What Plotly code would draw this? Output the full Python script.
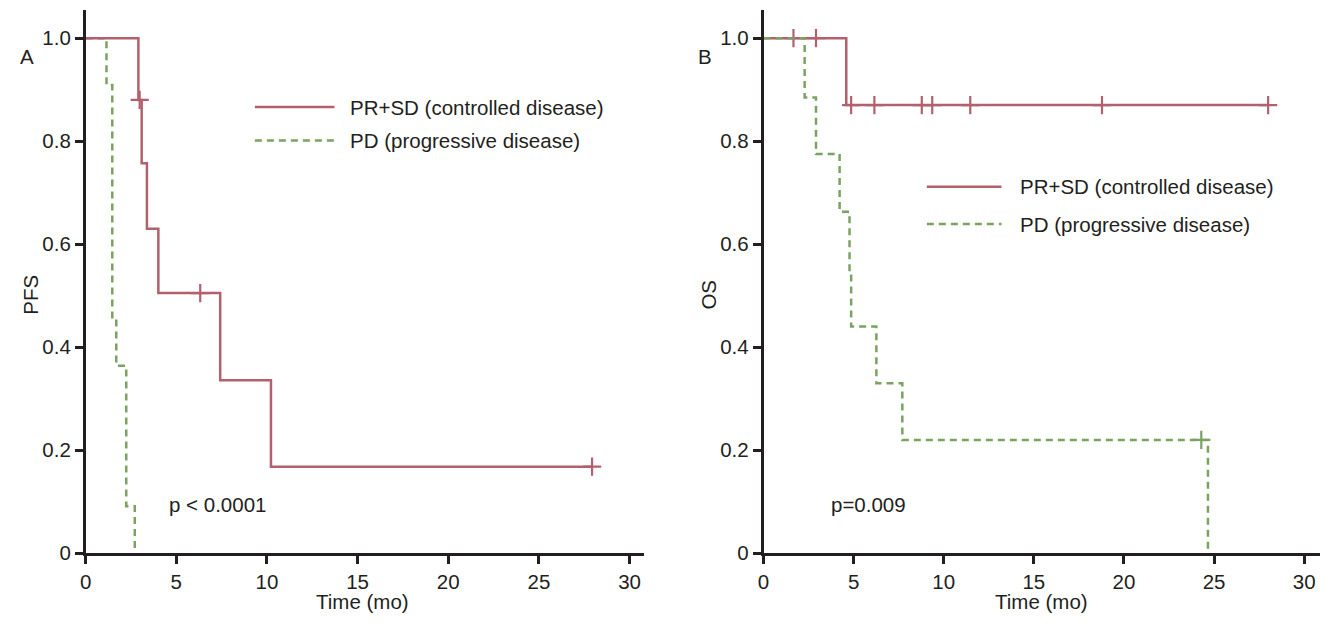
import plotly.graph_objects as go

# ---------------- data ----------------
# Panel A: PFS
pfs_ctrl_t = [0, 2.91, 3.09, 3.38, 4.01, 7.42, 10.22, 27.93]
pfs_ctrl_s = [1.0, 0.88, 0.757, 0.63, 0.505, 0.336, 0.168, 0.168]
pfs_ctrl_cens_t = [2.98, 6.32, 27.93]
pfs_ctrl_cens_s = [0.88, 0.505, 0.168]

pfs_prog_t = [0, 1.15, 1.47, 1.69, 2.24, 2.71]
pfs_prog_s = [1.0, 0.909, 0.455, 0.364, 0.091, 0.0]

# Panel B: OS
os_ctrl_t = [0, 4.59, 28.05]
os_ctrl_s = [1.0, 0.87, 0.87]
os_ctrl_cens_t = [1.66, 2.91, 4.86, 6.15, 8.78, 9.36, 11.47, 18.78, 28.0]
os_ctrl_cens_s = [1.0, 1.0, 0.87, 0.87, 0.87, 0.87, 0.87, 0.87, 0.87]

os_prog_t = [0, 2.28, 2.91, 4.22, 4.77, 4.86, 6.26, 7.70, 24.66]
os_prog_s = [1.0, 0.885, 0.775, 0.663, 0.55, 0.44, 0.33, 0.22, 0.0]
os_prog_cens_t = [24.29]
os_prog_cens_s = [0.22]

series_names = ["PR+SD (controlled disease)", "PD (progressive disease)"]
x_ticks = [0, 5, 10, 15, 20, 25, 30]
y_tickvals = [0, 0.2, 0.4, 0.6, 0.8, 1.0]
y_ticktext = ["0", "0.2", "0.4", "0.6", "0.8", "1.0"]
p_values = ["p < 0.0001", "p=0.009"]
y_titles = ["PFS", "OS"]
panel_letters = ["A", "B"]

# ---------------- styling ----------------
W, H = 1328, 633
RED = "#b45f6e"
GREEN = "#7aa362"
AX = "#231f20"
FONT = "Liberation Sans, Arial, sans-serif"
FS = 20.5


def px_x(p):
    return p / W


def px_y(p):
    return (H - p) / H


fig = go.Figure()


def step(x, y, color, dash, xa, ya):
    fig.add_trace(go.Scatter(x=x, y=y, mode="lines", line_shape="hv",
                             line=dict(color=color, width=2.5, dash=dash),
                             xaxis=xa, yaxis=ya, showlegend=False, hoverinfo="skip"))


def cens(x, y, color, xa, ya):
    fig.add_trace(go.Scatter(x=x, y=y, mode="markers",
                             marker=dict(symbol="cross-thin-open", size=13, color=color,
                                         line=dict(color=color, width=2.2)),
                             xaxis=xa, yaxis=ya, showlegend=False, hoverinfo="skip"))


DASH = "7px,5px"
# Panel A
step(pfs_prog_t, pfs_prog_s, GREEN, DASH, "x", "y")
step(pfs_ctrl_t, pfs_ctrl_s, RED, "solid", "x", "y")
cens(pfs_ctrl_cens_t, pfs_ctrl_cens_s, RED, "x", "y")
# Panel B
step(os_ctrl_t, os_ctrl_s, RED, "solid", "x2", "y2")
cens(os_ctrl_cens_t, os_ctrl_cens_s, RED, "x2", "y2")
step(os_prog_t, os_prog_s, GREEN, DASH, "x2", "y2")
cens(os_prog_cens_t, os_prog_cens_s, GREEN, "x2", "y2")

axis_common = dict(showline=True, linewidth=2.5, linecolor=AX, ticks="outside",
                   ticklen=8, tickwidth=2.5, tickcolor=AX, showgrid=False,
                   zeroline=False, tickfont=dict(family=FONT, size=FS, color=AX))

ydom = [px_y(563), px_y(10)]
fig.update_layout(
    autosize=True,
    margin=dict(l=0, r=0, t=0, b=0),
    paper_bgcolor="white", plot_bgcolor="white",
    font=dict(family=FONT, size=FS, color=AX),
    xaxis=dict(domain=[px_x(80), px_x(641)], range=[0, 30.8], tickvals=x_ticks,
               anchor="y", **axis_common),
    yaxis=dict(domain=ydom, range=[0, 1.055], tickvals=y_tickvals, ticktext=y_ticktext,
               anchor="x", **axis_common),
    xaxis2=dict(domain=[px_x(761), px_x(1320)], range=[0, 30.88], tickvals=x_ticks,
                anchor="y2", **axis_common),
    yaxis2=dict(domain=ydom, range=[0, 1.055], tickvals=y_tickvals, ticktext=y_ticktext,
                anchor="x2", **axis_common),
    showlegend=False,
)

ann = []
shapes = []
# x-axis titles
for cx in (358, 1040):
    ann.append(dict(x=px_x(cx), y=px_y(612), xref="paper", yref="paper", text="Time (mo)",
                    showarrow=False, xanchor="center", yanchor="middle",
                    font=dict(family=FONT, size=FS, color=AX)))
# y-axis titles
for cx, t in zip((25, 706), y_titles):
    ann.append(dict(x=px_x(cx), y=px_y(300), xref="paper", yref="paper", text=t,
                    textangle=-90, showarrow=False, xanchor="center", yanchor="middle",
                    font=dict(family=FONT, size=FS, color=AX)))
# panel letters
for cx, t in zip((21, 702), panel_letters):
    ann.append(dict(x=px_x(cx), y=px_y(58), xref="paper", yref="paper", text=t,
                    showarrow=False, xanchor="center", yanchor="middle",
                    font=dict(family=FONT, size=FS, color=AX)))
# p values
for lx, t in zip((162, 827), p_values):
    ann.append(dict(x=px_x(lx), y=px_y(513), xref="paper", yref="paper", text=t,
                    showarrow=False, xanchor="left", yanchor="middle",
                    font=dict(family=FONT, size=FS, color=AX)))
# legends
legends = [((250, 330, 344), (109, 143)), ((925, 1000, 1017), (190, 228))]
for (x0, x1, tx), (ya, yb) in legends:
    for yy, col, dash, name in ((ya, RED, "solid", series_names[0]),
                                (yb, GREEN, DASH, series_names[1])):
        shapes.append(dict(type="line", xref="paper", yref="paper",
                           x0=px_x(x0), x1=px_x(x1), y0=px_y(yy), y1=px_y(yy),
                           line=dict(color=col, width=2.5, dash=dash)))
        ann.append(dict(x=px_x(tx), y=px_y(yy), xref="paper", yref="paper", text=name,
                        showarrow=False, xanchor="left", yanchor="middle",
                        font=dict(family=FONT, size=FS, color=AX)))

fig.update_layout(annotations=ann, shapes=shapes)

post = (
    "document.documentElement.style.margin='0px';"
    "document.documentElement.style.padding='0px';"
    "document.documentElement.style.overflow='hidden';"
    "document.body.style.margin='0px';"
    "document.body.style.padding='0px';"
    "document.body.style.overflow='hidden';"
    "var gd=document.getElementById('{plot_id}');"
    "gd.style.position='fixed';gd.style.left='0px';gd.style.top='0px';"
    "gd.style.width='100vw';gd.style.height='100vh';"
    "Plotly.Plots.resize(gd);"
)
fig.write_html("out.html", config={"displayModeBar": False, "responsive": True},
               default_width="100vw", default_height="100vh", post_script=post)
